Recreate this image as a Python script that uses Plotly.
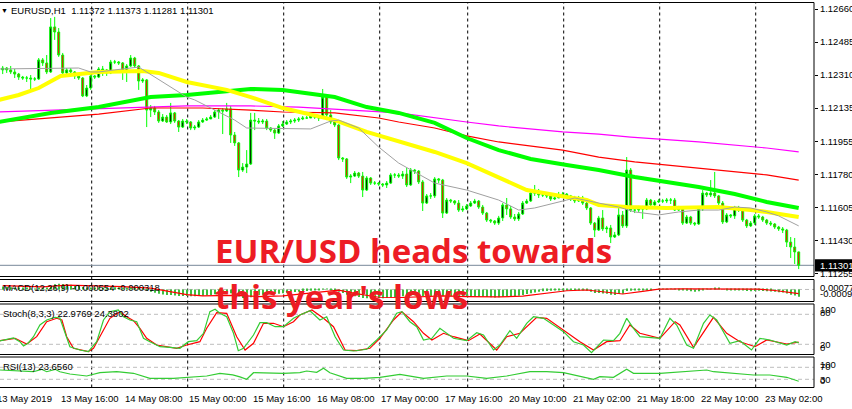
import plotly.graph_objects as go

# ------------------------------------------------------------------ data
bar_idx = list(range(200))   # H1 bars: 13 May 02:00 ... 23 May 11:00 (2019)

open_ = [1.12337, 1.12347, 1.12337, 1.12326, 1.12315, 1.12299, 1.12294, 1.12294, 1.12289, 1.12289,
         1.12390, 1.12374, 1.12326, 1.12565, 1.12538, 1.12416, 1.12321, 1.12337, 1.12326, 1.12305,
         1.12294, 1.12199, 1.12241, 1.12305, 1.12299, 1.12342, 1.12337, 1.12321, 1.12379, 1.12379,
         1.12374, 1.12326, 1.12358, 1.12400, 1.12358, 1.12278, 1.12284, 1.12124, 1.12135, 1.12114,
         1.12066, 1.12087, 1.12061, 1.12109, 1.12066, 1.12034, 1.12066, 1.12061, 1.12029, 1.12034,
         1.12061, 1.12071, 1.12077, 1.12087, 1.12114, 1.12124, 1.12119, 1.12130, 1.11992, 1.11950,
         1.11806, 1.11822, 1.11838, 1.12071, 1.12066, 1.12061, 1.12066, 1.12029, 1.12018, 1.12002,
         1.12040, 1.12050, 1.12061, 1.12066, 1.12071, 1.12077, 1.12082, 1.12082, 1.12093, 1.12087,
         1.12082, 1.12193, 1.12098, 1.12061, 1.12045, 1.11870, 1.11865, 1.11769, 1.11774, 1.11790,
         1.11774, 1.11700, 1.11764, 1.11737, 1.11737, 1.11732, 1.11727, 1.11737, 1.11780, 1.11780,
         1.11774, 1.11785, 1.11727, 1.11806, 1.11801, 1.11743, 1.11631, 1.11669, 1.11669, 1.11759,
         1.11753, 1.11578, 1.11647, 1.11642, 1.11631, 1.11594, 1.11600, 1.11616, 1.11631, 1.11642,
         1.11610, 1.11578, 1.11541, 1.11536, 1.11525, 1.11552, 1.11621, 1.11600, 1.11557, 1.11547,
         1.11573, 1.11631, 1.11642, 1.11684, 1.11684, 1.11674, 1.11674, 1.11669, 1.11653, 1.11658,
         1.11669, 1.11679, 1.11669, 1.11653, 1.11642, 1.11658, 1.11631, 1.11605, 1.11525, 1.11488,
         1.11552, 1.11494, 1.11499, 1.11451, 1.11462, 1.11568, 1.11510, 1.11806, 1.11594, 1.11594,
         1.11600, 1.11600, 1.11647, 1.11621, 1.11637, 1.11642, 1.11642, 1.11647, 1.11647, 1.11594,
         1.11600, 1.11525, 1.11557, 1.11525, 1.11520, 1.11600, 1.11684, 1.11674, 1.11684, 1.11669,
         1.11631, 1.11531, 1.11568, 1.11563, 1.11605, 1.11594, 1.11541, 1.11510, 1.11525, 1.11563,
         1.11557, 1.11541, 1.11525, 1.11520, 1.11504, 1.11494, 1.11488, 1.11424, 1.11398, 1.11372]

high = [1.12358, 1.12352, 1.12358, 1.12342, 1.12321, 1.12305, 1.12305, 1.12310, 1.12299, 1.12400,
        1.12400, 1.12416, 1.12612, 1.12618, 1.12559, 1.12427, 1.12347, 1.12347, 1.12331, 1.12310,
        1.12299, 1.12257, 1.12315, 1.12310, 1.12352, 1.12358, 1.12342, 1.12390, 1.12390, 1.12384,
        1.12379, 1.12368, 1.12416, 1.12406, 1.12363, 1.12294, 1.12289, 1.12151, 1.12146, 1.12124,
        1.12103, 1.12098, 1.12162, 1.12114, 1.12071, 1.12077, 1.12077, 1.12066, 1.12045, 1.12071,
        1.12082, 1.12087, 1.12098, 1.12124, 1.12135, 1.12135, 1.12162, 1.12146, 1.12008, 1.11955,
        1.11843, 1.11912, 1.12109, 1.12109, 1.12082, 1.12077, 1.12077, 1.12034, 1.12029, 1.12050,
        1.12066, 1.12071, 1.12077, 1.12082, 1.12087, 1.12093, 1.12093, 1.12103, 1.12098, 1.12093,
        1.12236, 1.12204, 1.12124, 1.12066, 1.12050, 1.11875, 1.11870, 1.11785, 1.11801, 1.11796,
        1.11796, 1.11774, 1.11769, 1.11748, 1.11743, 1.11737, 1.11748, 1.11790, 1.11790, 1.11790,
        1.11801, 1.11817, 1.11817, 1.11812, 1.11806, 1.11753, 1.11679, 1.11684, 1.11769, 1.11764,
        1.11759, 1.11658, 1.11653, 1.11647, 1.11647, 1.11616, 1.11626, 1.11642, 1.11653, 1.11647,
        1.11621, 1.11584, 1.11547, 1.11541, 1.11563, 1.11631, 1.11658, 1.11616, 1.11573, 1.11584,
        1.11642, 1.11653, 1.11700, 1.11727, 1.11706, 1.11690, 1.11684, 1.11674, 1.11674, 1.11690,
        1.11690, 1.11684, 1.11674, 1.11669, 1.11669, 1.11669, 1.11637, 1.11610, 1.11531, 1.11563,
        1.11594, 1.11510, 1.11515, 1.11478, 1.11610, 1.11589, 1.11875, 1.11817, 1.11610, 1.11616,
        1.11616, 1.11658, 1.11653, 1.11647, 1.11653, 1.11653, 1.11658, 1.11658, 1.11658, 1.11616,
        1.11605, 1.11568, 1.11563, 1.11531, 1.11610, 1.11700, 1.11690, 1.11753, 1.11796, 1.11674,
        1.11642, 1.11578, 1.11573, 1.11616, 1.11616, 1.11605, 1.11547, 1.11536, 1.11573, 1.11573,
        1.11563, 1.11547, 1.11536, 1.11525, 1.11510, 1.11504, 1.11494, 1.11451, 1.11446, 1.11373]

low = [1.12315, 1.12321, 1.12315, 1.12294, 1.12284, 1.12284, 1.12273, 1.12231, 1.12278, 1.12284,
       1.12358, 1.12315, 1.12321, 1.12496, 1.12406, 1.12305, 1.12310, 1.12310, 1.12289, 1.12284,
       1.12193, 1.12193, 1.12231, 1.12289, 1.12294, 1.12305, 1.12305, 1.12315, 1.12368, 1.12363,
       1.12284, 1.12273, 1.12352, 1.12347, 1.12231, 1.12268, 1.12034, 1.12087, 1.12098, 1.12056,
       1.12061, 1.12056, 1.12050, 1.12056, 1.12008, 1.12029, 1.12050, 1.12018, 1.12018, 1.12029,
       1.12056, 1.12066, 1.12077, 1.12082, 1.12077, 1.11997, 1.12114, 1.11950, 1.11934, 1.11769,
       1.11796, 1.11790, 1.11833, 1.12018, 1.12050, 1.12050, 1.12018, 1.12008, 1.11971, 1.11997,
       1.12034, 1.12045, 1.12050, 1.12056, 1.12061, 1.12071, 1.12077, 1.12082, 1.12077, 1.12066,
       1.12077, 1.12071, 1.12050, 1.12034, 1.11859, 1.11849, 1.11759, 1.11737, 1.11769, 1.11764,
       1.11663, 1.11695, 1.11727, 1.11727, 1.11722, 1.11716, 1.11711, 1.11732, 1.11764, 1.11764,
       1.11759, 1.11716, 1.11722, 1.11785, 1.11732, 1.11589, 1.11626, 1.11653, 1.11658, 1.11737,
       1.11552, 1.11573, 1.11631, 1.11621, 1.11584, 1.11584, 1.11594, 1.11610, 1.11626, 1.11600,
       1.11568, 1.11531, 1.11525, 1.11515, 1.11515, 1.11536, 1.11568, 1.11547, 1.11536, 1.11536,
       1.11568, 1.11626, 1.11637, 1.11669, 1.11658, 1.11663, 1.11658, 1.11642, 1.11647, 1.11658,
       1.11663, 1.11658, 1.11642, 1.11631, 1.11637, 1.11621, 1.11594, 1.11515, 1.11451, 1.11483,
       1.11483, 1.11472, 1.11419, 1.11446, 1.11456, 1.11499, 1.11499, 1.11584, 1.11578, 1.11584,
       1.11547, 1.11594, 1.11610, 1.11616, 1.11631, 1.11631, 1.11631, 1.11626, 1.11589, 1.11589,
       1.11515, 1.11520, 1.11515, 1.11510, 1.11515, 1.11589, 1.11663, 1.11663, 1.11658, 1.11621,
       1.11520, 1.11525, 1.11552, 1.11547, 1.11584, 1.11531, 1.11499, 1.11504, 1.11515, 1.11547,
       1.11531, 1.11515, 1.11510, 1.11494, 1.11483, 1.11472, 1.11398, 1.11340, 1.11308, 1.11281]

close = [1.12347, 1.12337, 1.12326, 1.12315, 1.12299, 1.12294, 1.12294, 1.12289, 1.12289, 1.12390,
         1.12374, 1.12326, 1.12565, 1.12538, 1.12416, 1.12321, 1.12337, 1.12326, 1.12305, 1.12294,
         1.12199, 1.12241, 1.12305, 1.12299, 1.12342, 1.12337, 1.12321, 1.12379, 1.12379, 1.12374,
         1.12326, 1.12358, 1.12400, 1.12358, 1.12278, 1.12284, 1.12124, 1.12135, 1.12114, 1.12066,
         1.12087, 1.12061, 1.12109, 1.12066, 1.12034, 1.12066, 1.12061, 1.12029, 1.12034, 1.12061,
         1.12071, 1.12077, 1.12087, 1.12114, 1.12124, 1.12119, 1.12130, 1.11992, 1.11950, 1.11806,
         1.11822, 1.11838, 1.12071, 1.12066, 1.12061, 1.12066, 1.12029, 1.12018, 1.12002, 1.12040,
         1.12050, 1.12061, 1.12066, 1.12071, 1.12077, 1.12082, 1.12082, 1.12093, 1.12087, 1.12082,
         1.12193, 1.12098, 1.12061, 1.12045, 1.11870, 1.11865, 1.11769, 1.11774, 1.11790, 1.11774,
         1.11700, 1.11764, 1.11737, 1.11737, 1.11732, 1.11727, 1.11737, 1.11780, 1.11780, 1.11774,
         1.11785, 1.11727, 1.11806, 1.11801, 1.11743, 1.11631, 1.11669, 1.11669, 1.11759, 1.11753,
         1.11578, 1.11647, 1.11642, 1.11631, 1.11594, 1.11600, 1.11616, 1.11631, 1.11642, 1.11610,
         1.11578, 1.11541, 1.11536, 1.11525, 1.11552, 1.11621, 1.11600, 1.11557, 1.11547, 1.11573,
         1.11631, 1.11642, 1.11684, 1.11684, 1.11674, 1.11674, 1.11669, 1.11653, 1.11658, 1.11669,
         1.11679, 1.11669, 1.11653, 1.11642, 1.11658, 1.11631, 1.11605, 1.11525, 1.11488, 1.11552,
         1.11494, 1.11499, 1.11451, 1.11462, 1.11568, 1.11510, 1.11806, 1.11594, 1.11594, 1.11600,
         1.11600, 1.11647, 1.11621, 1.11637, 1.11642, 1.11642, 1.11647, 1.11647, 1.11594, 1.11600,
         1.11525, 1.11557, 1.11525, 1.11520, 1.11600, 1.11684, 1.11674, 1.11684, 1.11669, 1.11631,
         1.11531, 1.11568, 1.11563, 1.11605, 1.11594, 1.11541, 1.11510, 1.11525, 1.11563, 1.11557,
         1.11541, 1.11525, 1.11520, 1.11504, 1.11494, 1.11488, 1.11424, 1.11398, 1.11372, 1.11301]

# moving averages (sampled where read on the chart)
yellow_idx = [-1, 4, 9, 13, 14.5, 24, 35, 39, 46, 56, 62, 70, 83, 91, 99, 108, 116, 124, 131, 141,
              146, 149, 156, 166, 174, 179, 187, 191, 199]
yellow_val = [1.12178, 1.12204, 1.12241, 1.12284, 1.12305, 1.12326, 1.12331, 1.12321, 1.12273, 1.12231,
              1.12193, 1.12135, 1.12071, 1.12008, 1.11960, 1.11902, 1.11843, 1.11764, 1.11700, 1.11663,
              1.11647, 1.11621, 1.11610, 1.11605, 1.11610, 1.11610, 1.11594, 1.11584, 1.11557]
green_idx = [-1, 12, 24, 37, 46, 58, 62, 70, 83, 91, 99, 108, 116, 124, 132, 141, 149, 158, 166, 174,
             183, 191, 199]
green_val = [1.12061, 1.12109, 1.12140, 1.12193, 1.12204, 1.12225, 1.12236, 1.12231, 1.12193, 1.12140,
             1.12109, 1.12056, 1.11976, 1.11912, 1.11865, 1.11833, 1.11806, 1.11769, 1.11743, 1.11716,
             1.11679, 1.11637, 1.11605]
red_idx = [-1, 12, 24, 37, 50, 62, 70, 83, 94, 99, 108, 116, 124, 140, 149, 158, 166, 174, 183, 191, 199]
red_val = [1.12061, 1.12082, 1.12103, 1.12135, 1.12135, 1.12124, 1.12114, 1.12109, 1.12082, 1.12061,
           1.12029, 1.11987, 1.11955, 1.11912, 1.11875, 1.11849, 1.11833, 1.11817, 1.11796, 1.11780,
           1.11753]
magenta_idx = [-1, 14, 29, 46, 62, 74, 99, 108, 116, 124, 140, 149, 157, 174, 191, 199]
magenta_val = [1.12114, 1.12124, 1.12135, 1.12146, 1.12146, 1.12140, 1.12109, 1.12082, 1.12061, 1.12040,
               1.12008, 1.11997, 1.11981, 1.11955, 1.11923, 1.11902]
gray_idx = [-1, 19, 22, 24, 28, 34, 36, 46, 48, 58, 61, 77, 82, 84, 89, 94, 99, 108, 116, 124,
            129, 133, 141, 143, 149, 154, 158, 164, 169, 174, 179, 183, 187, 191, 194, 199]
gray_val = [1.12342, 1.12347, 1.12326, 1.12326, 1.12337, 1.12352, 1.12326, 1.12193, 1.12178, 1.12071,
            1.12029, 1.12024, 1.12066, 1.12071, 1.12029, 1.11928, 1.11843, 1.11737, 1.11700, 1.11647,
            1.11594, 1.11605, 1.11647, 1.11658, 1.11631, 1.11610, 1.11584, 1.11568, 1.11584, 1.11594,
            1.11594, 1.11610, 1.11605, 1.11584, 1.11563, 1.11510]

# MACD(12,26,9): main (histogram) per bar, signal sampled
macd_main = [0.00022, 0.00020, 0.00018, 0.00015, 0.00012, 0.00010, 0.00008, 0.00006, 0.00005, 0.00008,
             0.00010, 0.00009, 0.00025, 0.00040, 0.00045, 0.00042, 0.00040, 0.00037, 0.00033, 0.00029,
             0.00020, 0.00015, 0.00014, 0.00012, 0.00013, 0.00013, 0.00012, 0.00015, 0.00017, 0.00018,
             0.00016, 0.00016, 0.00019, 0.00018, 0.00012, 0.00008, -0.00008, -0.00018, -0.00026, -0.00034,
             -0.00038, -0.00043, -0.00043, -0.00046, -0.00050, -0.00050, -0.00050, -0.00052, -0.00052, -0.00050,
             -0.00048, -0.00045, -0.00042, -0.00037, -0.00032, -0.00028, -0.00024, -0.00030, -0.00038, -0.00055,
             -0.00065, -0.00070, -0.00060, -0.00052, -0.00045, -0.00040, -0.00038, -0.00036, -0.00036, -0.00033,
             -0.00030, -0.00026, -0.00023, -0.00020, -0.00017, -0.00014, -0.00012, -0.00009, -0.00008, -0.00007,
             0.00002, 0.00002, -0.00002, -0.00006, -0.00018, -0.00028, -0.00040, -0.00048, -0.00053, -0.00058,
             -0.00065, -0.00067, -0.00068, -0.00068, -0.00068, -0.00067, -0.00066, -0.00062, -0.00058, -0.00055,
             -0.00052, -0.00052, -0.00048, -0.00045, -0.00045, -0.00050, -0.00052, -0.00052, -0.00048, -0.00044,
             -0.00050, -0.00052, -0.00053, -0.00054, -0.00056, -0.00057, -0.00057, -0.00056, -0.00054, -0.00054,
             -0.00056, -0.00059, -0.00061, -0.00062, -0.00061, -0.00056, -0.00052, -0.00051, -0.00050, -0.00048,
             -0.00042, -0.00036, -0.00029, -0.00023, -0.00018, -0.00014, -0.00011, -0.00009, -0.00007, -0.00005,
             -0.00004, -0.00003, -0.00003, -0.00004, -0.00004, -0.00006, -0.00010, -0.00018, -0.00027, -0.00028,
             -0.00032, -0.00034, -0.00040, -0.00042, -0.00036, -0.00034, -0.00012, -0.00010, -0.00008, -0.00006,
             -0.00005, -0.00002, -0.00001, 0.00000, 0.00001, 0.00002, 0.00003, 0.00004, 0.00001, -0.00001,
             -0.00008, -0.00010, -0.00014, -0.00017, -0.00013, -0.00004, 0.00002, 0.00007, 0.00010, 0.00009,
             0.00000, -0.00003, -0.00005, -0.00003, -0.00002, -0.00006, -0.00011, -0.00013, -0.00011, -0.00010,
             -0.00011, -0.00013, -0.00015, -0.00018, -0.00021, -0.00024, -0.00032, -0.00040, -0.00047, -0.000554]
macd_sig_idx = [0, 10, 16, 30, 37, 40, 46, 50, 58, 64, 70, 78, 84, 88, 94, 100, 110, 116, 124, 130,
                136, 141, 146, 150, 155, 160, 164, 170, 178, 185, 189, 193, 199]
macd_sig_val = [0.00030, 0.00020, 0.00034, 0.00022, 0.00010, -0.00005, -0.00040, -0.00050, -0.00045, -0.00055,
                -0.00050, -0.00025, -0.00005, -0.00030, -0.00060, -0.00062, -0.00050, -0.00055, -0.00058, -0.00052,
                -0.00030, -0.00010, -0.00004, -0.00020, -0.00035, -0.00015, 0.00002, 0.00005, 0.00006, 0.00005,
                0.00002, -0.00008, -0.000318]

# Stochastic(8,3,3)
stoch_main_idx = [-0.7, 2.7, 4.3, 5.2, 6.4, 7.7, 9.3, 11, 13.1, 14.3, 15.6, 16.8, 19.3, 21.4, 23.5, 25.2,
                  26.8, 28.9, 30.2, 31.8, 33.5, 35.2, 36.8, 39.3, 41.8, 44.3, 46.4, 48.5, 50.2, 51.8, 53.1,
                  54.3, 56, 57.7, 58.9, 60.2, 62.7, 64.3, 66, 68.1, 70.2, 72.7, 74.3, 76.8, 79.3, 81, 83.1,
                  85.2, 87.7, 91, 93.5, 96, 98.5, 99.8, 101.8, 103.5, 105.2, 107.3, 109.3, 112.7, 116, 118.5,
                  120.2, 122.7, 124.3, 126.8, 128.5, 131, 132.7, 135.2, 140.2, 142.7, 145.2, 147.2, 150.2,
                  152.7, 154.3, 156, 157.7, 159.3, 164.3, 166.8, 168.5, 171, 172.7, 175.2, 176.8, 178.5,
                  181.8, 184.3, 187.2, 189.3, 191.8, 196, 198.1, 199]
stoch_main_val = [26.6, 32.6, 25.2, 16.6, 22.6, 35.2, 58.6, 68.6, 74, 72.6, 42.6, 15.2, 8.6, 5.2, 25.2, 68.6,
                  85.2, 88.6, 75.2, 68.6, 65.2, 32, 25.2, 15.2, 14, 12, 25.2, 27.2, 42, 85.2, 90,
                  82, 75.2, 42, 7.2, 12, 38.6, 63.2, 63.2, 55.2, 55.2, 72, 78.6, 87.2, 68.6, 75.2, 35.2,
                  8.6, 6.6, 10, 28.6, 48.6, 82, 85.2, 65.2, 55.2, 28.6, 32, 52, 32, 27.2, 43.2,
                  38.6, 8.6, 18.6, 47.2, 32, 62, 75.2, 72, 45.2, 25.2, 18.6, 3.2, 28.6,
                  27.2, 42, 72, 52, 35.2, 32, 72, 58.6, 18.6, 12, 62, 78.6, 68.6,
                  22, 27.2, 8.6, 32, 28.6, 18.6, 25.2, 22.9769]
stoch_sig_idx = [-0.7, 3.1, 6, 8.5, 11, 13.5, 14.8, 16, 17.7, 21.4, 22.7, 24.3, 26.8, 29.3, 31, 32.7, 34.3,
                 36, 38.5, 43.5, 46, 49.3, 51, 53.5, 56, 58.5, 60.6, 62.7, 65.2, 67.7, 70.2, 72.7, 74.3,
                 77.3, 80.2, 82.7, 85.6, 88.5, 91.8, 94.3, 97.7, 99.8, 102.7, 105.2, 107.3, 110.2, 112.7,
                 116.4, 119.3, 123.5, 126, 129.3, 133.5, 136, 140.2, 144.3, 147.7, 151, 154.3, 156.8,
                 159.3, 164.3, 168.1, 169.3, 172.7, 177.7, 181, 184.3, 188.1, 191, 196, 199]
stoch_sig_val = [27.2, 32, 20.6, 35.2, 65.2, 72, 68.6, 35.2, 12, 5.2, 12, 35.2, 72, 85.2, 75.2, 67.2, 52,
                 32, 18.6, 12, 18.6, 25.2, 52, 83.2, 82, 35.2, 8.6, 22, 62, 62, 55.2, 65.2, 78.6,
                 88.6, 72, 55.2, 8.6, 7.2, 12, 32, 68.6, 85.2, 65.2, 42, 28.6, 42, 35.2,
                 27.2, 40.6, 8.6, 35.2, 42, 74, 72, 48.6, 25.2, 8.6, 25.2, 27.2, 58.6,
                 42, 32, 65.2, 58.6, 14, 74, 42, 25.2, 15.2, 28.6, 20.6, 24.3802]

# RSI(13)
rsi_idx = [-0.7, 3.5, 7.7, 9.7, 11, 13.1, 14.3, 16.8, 21, 24.3, 28.5, 32.7, 36.8, 42.7, 46, 51, 54.3, 57.5,
           59.3, 61, 62.7, 70.2, 74.3, 76, 78.5, 80.2, 81.8, 86, 90.2, 94.3, 99.3, 102.7, 105.2, 111, 116,
           121, 126, 131.8, 136, 140.2, 144.3, 147.7, 149.3, 152.7, 156, 157.7, 164.3, 176, 177.7, 187.7,
           191.8, 196, 199]
rsi_val = [61, 57.7, 55.3, 63.3, 55.3, 63.3, 55.3, 47.7, 41, 52, 55.3, 50, 33.3, 33.3, 36.7, 41, 50, 45,
           38, 30, 52, 50, 52, 57.7, 53.3, 66.7, 52, 33.3, 33.3, 36.7, 46.7, 38.7, 33.3, 41, 41,
           33.3, 41, 55.3, 55.3, 52, 41, 30, 38.7, 36.7, 63.3, 50, 50, 61, 55.3, 44.3,
           44.3, 36.7, 23.656]

price_ticks = [1.12660, 1.12485, 1.12310, 1.12135, 1.11955, 1.11780, 1.11605, 1.11430, 1.11255]
day_start_idx = [22, 46, 70, 94, 116, 140, 164, 188]
time_label_idx = [-2, 14, 30, 46, 62, 78, 94, 110, 126, 142, 158, 174, 190]
time_label_text = ["13 May 2019", "13 May 16:00", "14 May 08:00", "15 May 00:00", "15 May 16:00",
                   "16 May 08:00", "17 May 00:00", "17 May 16:00", "20 May 10:00", "21 May 02:00",
                   "21 May 18:00", "22 May 10:00", "23 May 02:00"]
macd_scale_labels = ["0.00077", "-0.00093"]
stoch_scale_labels = ["100", "80", "20", "0"]
rsi_scale_labels = ["100", "70", "30", "0"]
headline = ["EUR/USD heads towards", "this year's lows"]

# ------------------------------------------------------------------ geometry
W, H = 852, 409
PW = 814.0
def fx(px): return px / PW
def fy(py): return 1.0 - py / H

MAIN = (2.5, 276.5)
MACDP = (279.5, 301.5)
STO = (304.0, 354.5)
RSIP = (357.0, 387.5)
A, B = 1.127077, 0.00005302           # price = A - B * ypx (main panel)
main_range = [A - B * MAIN[1], A - B * MAIN[0]]
sto_range = [20 - (STO[1] - 344.3) / 0.5, 80 + (314.3 - STO[0]) / 0.5]
rsi_range = [30 - (RSIP[1] - 379.3) / 0.3, 70 + (367.3 - RSIP[0]) / 0.3]
macd_range = [-0.00093, 0.00077]
x_range = [-0.675, 202.825]
def bar_to_paper(j): return (j - x_range[0]) / (x_range[1] - x_range[0])

FONT = "Liberation Sans, Arial, sans-serif"
LIME = "#00FF00"

fig = go.Figure()

def ma(xs, ys, color, width):
    fig.add_trace(go.Scatter(x=xs, y=ys, mode="lines", line=dict(color=color, width=width),
                             xaxis="x", yaxis="y", hoverinfo="skip", showlegend=False))

ma(magenta_idx, magenta_val, "#FF00FF", 1.2)
ma(red_idx, red_val, "#FF0000", 1.2)
ma(green_idx, green_val, LIME, 4)
ma(yellow_idx, yellow_val, "#FFFF00", 4)
ma(gray_idx, gray_val, "#A0A0A0", 1)

fig.add_trace(go.Candlestick(
    x=bar_idx, open=open_, high=high, low=low, close=close,
    increasing=dict(line=dict(color=LIME, width=1), fillcolor="#000000"),
    decreasing=dict(line=dict(color=LIME, width=1), fillcolor="#FF0000"),
    whiskerwidth=0, xaxis="x", yaxis="y", hoverinfo="skip", showlegend=False))

# MACD
fig.add_trace(go.Bar(x=bar_idx, y=macd_main, width=0.3, marker=dict(color="#3CC03C", line=dict(width=0)),
                     xaxis="x", yaxis="y2", hoverinfo="skip", showlegend=False))
fig.add_trace(go.Scatter(x=macd_sig_idx, y=macd_sig_val, mode="lines", line=dict(color="#FF0000", width=1.2),
                         xaxis="x", yaxis="y2", hoverinfo="skip", showlegend=False))
# Stochastic
fig.add_trace(go.Scatter(x=stoch_sig_idx, y=stoch_sig_val, mode="lines", line=dict(color="#FF0000", width=1.2),
                         xaxis="x", yaxis="y3", hoverinfo="skip", showlegend=False))
fig.add_trace(go.Scatter(x=stoch_main_idx, y=stoch_main_val, mode="lines", line=dict(color="#33CC33", width=1.2),
                         xaxis="x", yaxis="y3", hoverinfo="skip", showlegend=False))
# RSI
fig.add_trace(go.Scatter(x=rsi_idx, y=rsi_val, mode="lines", line=dict(color="#33CC33", width=1.2),
                         xaxis="x", yaxis="y4", hoverinfo="skip", showlegend=False))

shapes = []
for d in day_start_idx:
    shapes.append(dict(type="line", xref="x", yref="paper", x0=d + 0.25, x1=d + 0.25,
                       y0=fy(RSIP[1]), y1=fy(MAIN[0]), layer="below",
                       line=dict(color="black", width=1, dash="3px,3px")))
for yref, v in [("y2", 0), ("y3", 80), ("y3", 20), ("y4", 70), ("y4", 30)]:
    shapes.append(dict(type="line", xref="paper", yref=yref, x0=0, x1=1, y0=v, y1=v, layer="below",
                       line=dict(color="#BDBDBD", width=1, dash="4px,3px")))
shapes.append(dict(type="line", xref="paper", yref="y", x0=0, x1=1, y0=close[-1], y1=close[-1],
                   layer="below", line=dict(color="#778899", width=1)))
for top, bot in [MAIN, MACDP, STO, RSIP]:
    shapes.append(dict(type="rect", xref="paper", yref="paper", x0=-0.01, x1=1, y0=fy(bot), y1=fy(top),
                       line=dict(color="black", width=1), fillcolor="rgba(0,0,0,0)", layer="above"))
shapes.append(dict(type="rect", xref="paper", yref="y", x0=fx(815), x1=fx(860),
                   y0=close[-1] - 6.3 * B, y1=close[-1] + 6.0 * B, fillcolor="black",
                   line=dict(width=0), layer="above"))

ann = []
def txt(x, y, s, size=9.5, color="black", xref="paper", yref="paper", xanchor="left", family=FONT):
    ann.append(dict(x=x, y=y, xref=xref, yref=yref, text=s, showarrow=False, xanchor=xanchor,
                    yanchor="middle", font=dict(family=family, size=size, color=color)))

txt(fx(-1), fy(11), "▼", size=7)
txt(fx(9), fy(11), f"EURUSD,H1\u00a0\u00a0{open_[-1]:.5f} {high[-1]:.5f} {low[-1]:.5f} {close[-1]:.5f}")
txt(fx(1), fy(287), f"MACD(12,26,9) {macd_main[-1]:.6f} {macd_sig_val[-1]:.6f}")
txt(fx(1), fy(313), f"Stoch(8,3,3) {stoch_main_val[-1]:.4f} {stoch_sig_val[-1]:.4f}")
txt(fx(1), fy(366.5), f"RSI(13) {rsi_val[-1]:.4f}")

txt(fx(817.5), close[-1], f"{close[-1]:.5f}", color="white", yref="y")
for s, py in zip(macd_scale_labels, [287, 293.5]):
    txt(fx(817.5), fy(py), s)
for s, py in zip(stoch_scale_labels, [309.5, 312.5, 344.5, 347.5]):
    txt(fx(817.5), fy(py), s)
for s, py in zip(rsi_scale_labels, [364.5, 366.5, 379.5, 380.5]):
    txt(fx(817.5), fy(py), s)
for j, s in zip(time_label_idx, time_label_text):
    txt(bar_to_paper(j), fy(398), s)

for s, py in zip(headline, [250, 296]):
    txt(fx(213), fy(py), f"<b>{s}</b>", size=33, color="#ED1C24", family="Open Sans, sans-serif")

hidden = dict(showticklabels=False, showgrid=False, zeroline=False, showline=False, ticks="",
              fixedrange=True)
fig.update_layout(
    width=W, height=H, margin=dict(l=0, r=W - PW, t=0, b=0, autoexpand=False),
    paper_bgcolor="white", plot_bgcolor="white", showlegend=False, hovermode=False,
    font=dict(family=FONT, size=9.5, color="black"),
    barmode="overlay",
    xaxis=dict(domain=[0, 1], range=x_range, rangeslider=dict(visible=False), anchor="y", **hidden),
    yaxis=dict(domain=[fy(MAIN[1]), fy(MAIN[0])], range=main_range, side="right", anchor="x",
               tickvals=price_ticks, ticktext=[f"{v:.5f}" for v in price_ticks],
               ticks="outside", ticklen=3, tickcolor="black", tickwidth=1,
               tickfont=dict(family=FONT, size=9.5, color="black"),
               showgrid=False, zeroline=False, showline=False, fixedrange=True),
    yaxis2=dict(domain=[fy(MACDP[1]), fy(MACDP[0])], range=macd_range, anchor="x", **hidden),
    yaxis3=dict(domain=[fy(STO[1]), fy(STO[0])], range=sto_range, anchor="x", **hidden),
    yaxis4=dict(domain=[fy(RSIP[1]), fy(RSIP[0])], range=rsi_range, anchor="x", **hidden),
    shapes=shapes, annotations=ann,
)

fig.write_html("out.html", config={"displayModeBar": False},
               post_script="document.body.style.margin='0px';document.body.style.overflow='hidden';")
